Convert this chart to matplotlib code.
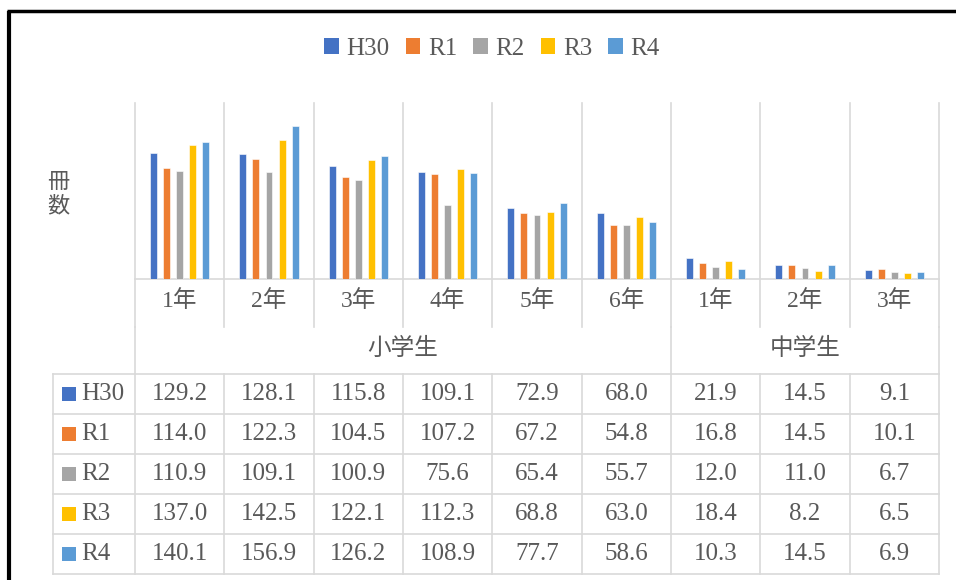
import matplotlib
matplotlib.use('Agg')
import matplotlib.pyplot as plt
from matplotlib import transforms
from matplotlib.patches import Patch

# 学年別の一人当たり読書冊数
grades = ['1年', '2年', '3年', '4年', '5年', '6年', '1年', '2年', '3年']
schools = ['小学生', '中学生']
school_span = [6, 3]
series = ['H30', 'R1', 'R2', 'R3', 'R4']
h30 = [129.2, 128.1, 115.8, 109.1, 72.9, 68.0, 21.9, 14.5, 9.1]
r1 = [114.0, 122.3, 104.5, 107.2, 67.2, 54.8, 16.8, 14.5, 10.1]
r2 = [110.9, 109.1, 100.9, 75.6, 65.4, 55.7, 12.0, 11.0, 6.7]
r3 = [137.0, 142.5, 122.1, 112.3, 68.8, 63.0, 18.4, 8.2, 6.5]
r4 = [140.1, 156.9, 126.2, 108.9, 77.7, 58.6, 10.3, 14.5, 6.9]
values = [h30, r1, r2, r3, r4]
colors = ['#4472C4', '#ED7D31', '#A5A5A5', '#FFC000', '#5B9BD5']

FONT = ['Liberation Serif', 'Noto Sans CJK JP', 'DejaVu Sans']
TXT = '#595959'
GRID = '#D9D9D9'
FS = 18
plt.rcParams['font.family'] = FONT

W, H = 956, 580
fig = plt.figure(figsize=(W / 100, H / 100), dpi=100)

# pixel-space background axes for frame and table
bg = fig.add_axes([0, 0, 1, 1])
bg.set_xlim(0, W)
bg.set_ylim(H, 0)
bg.axis('off')

# plot area
x0, x1, ytop, ybase = 135, 939, 103, 279
ax = fig.add_axes([x0 / W, 1 - ybase / H, (x1 - x0) / W, (ybase - ytop) / H])
ax.set_facecolor('none')
n = len(grades)
ax.set_xlim(-0.5, n - 0.5)
ax.set_ylim(0, 180)
ax.axis('off')

step, bw = 0.146, 0.078
for k, (name, vals) in enumerate(zip(series, values)):
    xs = [i + (k - 2) * step for i in range(n)]
    ax.bar(xs, vals, width=bw, color=colors[k], edgecolor='white',
           linewidth=0.4, zorder=3, label=name)

# mixed transform: x in category units, y in pixels
tr = transforms.blended_transform_factory(ax.transData, bg.transData)
bounds = [i - 0.5 for i in range(n + 1)]

lw = 1.2
# vertical gridlines through plot area and category-label row
for b in bounds:
    bg.plot([b, b], [ytop, 327], color=GRID, lw=lw, transform=tr, zorder=1)
# baseline
bg.plot([-0.5, n - 0.5], [ybase, ybase], color=GRID, lw=lw, transform=tr, zorder=1)

# school group row
row_top = 374
pos = 0
edges = [-0.5]
for name, span in zip(schools, school_span):
    c = pos + (span - 1) / 2
    bg.text(c, 349, name, transform=tr, ha='center', va='center',
            fontsize=FS - 1, color=TXT)
    pos += span
    edges.append(pos - 0.5)
for e in edges:
    bg.plot([e, e], [327, row_top], color=GRID, lw=lw, transform=tr, zorder=1)

# grade labels
for i, g in enumerate(grades):
    bg.text(i, 301, g, transform=tr, ha='center', va='center',
            fontsize=FS - 1, color=TXT)

# data table
row_h = 40
hdr_left = 53
nrows = len(series)
for r in range(nrows + 1):
    y = row_top + r * row_h
    bg.plot([hdr_left, x1], [y, y], color=GRID, lw=lw, zorder=1)
for b in bounds:
    bg.plot([b, b], [row_top, row_top + nrows * row_h], color=GRID, lw=lw,
            transform=tr, zorder=1)
bg.plot([hdr_left, hdr_left], [row_top, row_top + nrows * row_h], color=GRID,
        lw=lw, zorder=1)

for r, (name, vals) in enumerate(zip(series, values)):
    yc = row_top + r * row_h + row_h / 2
    bg.add_patch(plt.Rectangle((62, yc - 7), 14, 14, color=colors[r], lw=0))
    bg.text(81, yc, name, ha='left', va='center', fontsize=FS, color=TXT)
    for i, v in enumerate(vals):
        bg.text(i, yc, f'{v:.1f}', transform=tr, ha='center', va='center',
                fontsize=FS, color=TXT)

# axis title, one character per line
for j, ch in enumerate('冊数'):
    bg.text(58, 184 + j * 23, ch, ha='center', va='center', fontsize=16,
            color=TXT)

# legend
handles = [Patch(facecolor=c, edgecolor='none') for c in colors]
fig.legend(handles, series, loc='center', ncol=5,
           bbox_to_anchor=(492 / W, 1 - 49 / H), frameon=False,
           fontsize=FS, labelcolor=TXT, handlelength=0.58,
           handleheight=0.58, handletextpad=0.3, columnspacing=0.65)

# outer frame
bg.plot([9, 9], [11, H + 5], color='black', lw=3, solid_capstyle='butt')
bg.plot([7.5, W + 5], [11, 11], color='black', lw=2.5, solid_capstyle='butt')

fig.savefig('out.png', dpi=100)
